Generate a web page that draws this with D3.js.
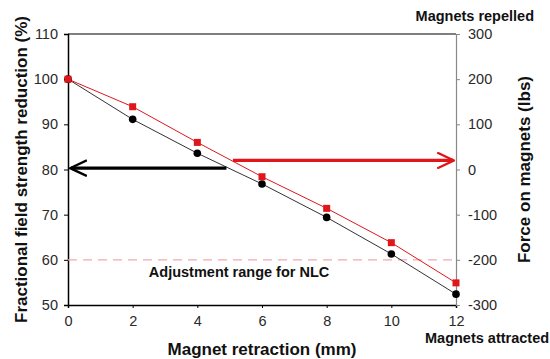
<!DOCTYPE html>
<html lang="en">
<head>
<meta charset="UTF-8">
<title>Magnet retraction</title>
<script src="https://d3js.org/d3.v7.min.js"></script>
<style>
    body { margin: 0; padding: 0; background: #fff; font-family: 'Liberation Sans', Arial, sans-serif; }
    .tick text { font-size: 14.5px; fill: #2a2a2a; font-family: 'Liberation Sans', Arial, sans-serif; }
    .lab { font-weight: bold; fill: #111; }
</style>
</head>
<body>
<div id="chart"></div>
<script>
    // data
    const retraction = [0, 2, 4, 6, 8, 10, 12];
    const fieldReduction = [100, 91.1, 83.6, 76.8, 69.4, 61.3, 52.4];   // %, left axis
    const force = [200, 139, 60, -16, -86, -162, -251];                   // lbs, right axis
    const leftTicks = [50, 60, 70, 80, 90, 100, 110];
    const rightTicks = [-300, -200, -100, 0, 100, 200, 300];
    const xTicks = [0, 2, 4, 6, 8, 10, 12];
    const nlcLevel = 60;

    const W = 550, H = 359;
    const margin = { top: 34, right: 94, bottom: 54, left: 68 };
    const width = W - margin.left - margin.right,
          height = H - margin.top - margin.bottom;

    const svg = d3.select("#chart").append("svg")
        .attr("width", W).attr("height", H);

    const defs = svg.append("defs");
    function arrowMarker(id, color, w) {
        defs.append("marker").attr("id", id)
            .attr("viewBox", "0 0 10 10").attr("refX", 9).attr("refY", 5)
            .attr("markerWidth", w).attr("markerHeight", w)
            .attr("markerUnits", "strokeWidth")
            .attr("orient", "auto")
            .append("path").attr("d", "M0,0.5 L9.5,5 L0,9.5")
            .attr("fill", "none").attr("stroke", color).attr("stroke-width", 1.3);
    }
    arrowMarker("arrBlack", "#000", 5.5);
    arrowMarker("arrRed", "#e0161b", 5.5);

    const g = svg.append("g").attr("transform", `translate(${margin.left},${margin.top})`);

    const x = d3.scaleLinear().domain([0, 12]).range([0, width]);
    const yL = d3.scaleLinear().domain([50, 110]).range([height, 0]);
    const yR = d3.scaleLinear().domain([-300, 300]).range([height, 0]);
    const plain = d => String(d);

    // top border
    g.append("line").attr("x1", 0).attr("x2", width).attr("y1", 0).attr("y2", 0)
        .attr("stroke", "#000").attr("stroke-width", 1.2);

    // axes
    const ax = g.append("g").attr("transform", `translate(0,${height})`)
        .call(d3.axisBottom(x).tickValues(xTicks).tickFormat(plain).tickSize(3).tickPadding(8));
    ax.select(".domain").attr("stroke", "#000").attr("stroke-width", 1.5);

    const al = g.append("g")
        .call(d3.axisLeft(yL).tickValues(leftTicks).tickFormat(plain).tickSize(4).tickPadding(6));
    al.select(".domain").attr("stroke", "#000").attr("stroke-width", 1.5);

    const ar = g.append("g").attr("transform", `translate(${width},0)`)
        .call(d3.axisRight(yR).tickValues(rightTicks).tickFormat(plain).tickSize(4).tickPadding(8));
    ar.select(".domain").attr("stroke", "#888").attr("stroke-width", 1.2);
    ar.selectAll(".tick line").attr("stroke", "#888");

    // NLC adjustment line
    g.append("line").attr("x1", 0).attr("x2", width)
        .attr("y1", yL(nlcLevel)).attr("y2", yL(nlcLevel))
        .attr("stroke", "#f2a9b0").attr("stroke-width", 1.2)
        .attr("stroke-dasharray", "9,6");
    g.append("text").attr("class", "lab")
        .attr("x", x(2.5)).attr("y", yL(nlcLevel) + 17)
        .attr("font-size", 14.5).text("Adjustment range for NLC");

    // series lines
    const lineL = d3.line().x((d, i) => x(retraction[i])).y(d => yL(d));
    const lineR = d3.line().x((d, i) => x(retraction[i])).y(d => yR(d));

    g.append("path").datum(fieldReduction).attr("d", lineL)
        .attr("fill", "none").attr("stroke", "#333").attr("stroke-width", 1);
    g.append("path").datum(force).attr("d", lineR)
        .attr("fill", "none").attr("stroke", "#e0161b").attr("stroke-width", 1);

    g.selectAll(".dot").data(fieldReduction).enter().append("circle")
        .attr("cx", (d, i) => x(retraction[i])).attr("cy", d => yL(d))
        .attr("r", 3.8).attr("fill", "#000");
    g.selectAll(".sq").data(force).enter().append("rect")
        .attr("x", (d, i) => x(retraction[i]) - 3.5).attr("y", d => yR(d) - 3.5)
        .attr("width", 7).attr("height", 7).attr("fill", "#e0161b");

    // arrows
    g.append("line")
        .attr("x1", x(4.9)).attr("x2", x(0) + 3)
        .attr("y1", yL(80.3)).attr("y2", yL(80.3))
        .attr("stroke", "#000").attr("stroke-width", 3.2)
        .attr("marker-end", "url(#arrBlack)");
    g.append("line")
        .attr("x1", x(5.1)).attr("x2", x(12) - 3)
        .attr("y1", yR(20)).attr("y2", yR(20))
        .attr("stroke", "#e0161b").attr("stroke-width", 3.2)
        .attr("marker-end", "url(#arrRed)");

    // axis titles
    svg.append("text").attr("class", "lab")
        .attr("transform", `translate(27,${margin.top + height / 2}) rotate(-90)`)
        .attr("text-anchor", "middle").attr("font-size", 17)
        .text("Fractional field strength reduction (%)");
    svg.append("text").attr("class", "lab")
        .attr("transform", `translate(530,${margin.top + height / 2}) rotate(-90)`)
        .attr("text-anchor", "middle").attr("font-size", 17)
        .text("Force on magnets (lbs)");
    svg.append("text").attr("class", "lab")
        .attr("x", margin.left + width / 2).attr("y", 355)
        .attr("text-anchor", "middle").attr("font-size", 17)
        .text("Magnet retraction (mm)");
    svg.append("text").attr("class", "lab")
        .attr("x", 534).attr("y", 21).attr("text-anchor", "end")
        .attr("font-size", 14.5).text("Magnets repelled");
    svg.append("text").attr("class", "lab")
        .attr("x", 425).attr("y", 343)
        .attr("font-size", 14.5).text("Magnets attracted");
</script>
</body>
</html>
